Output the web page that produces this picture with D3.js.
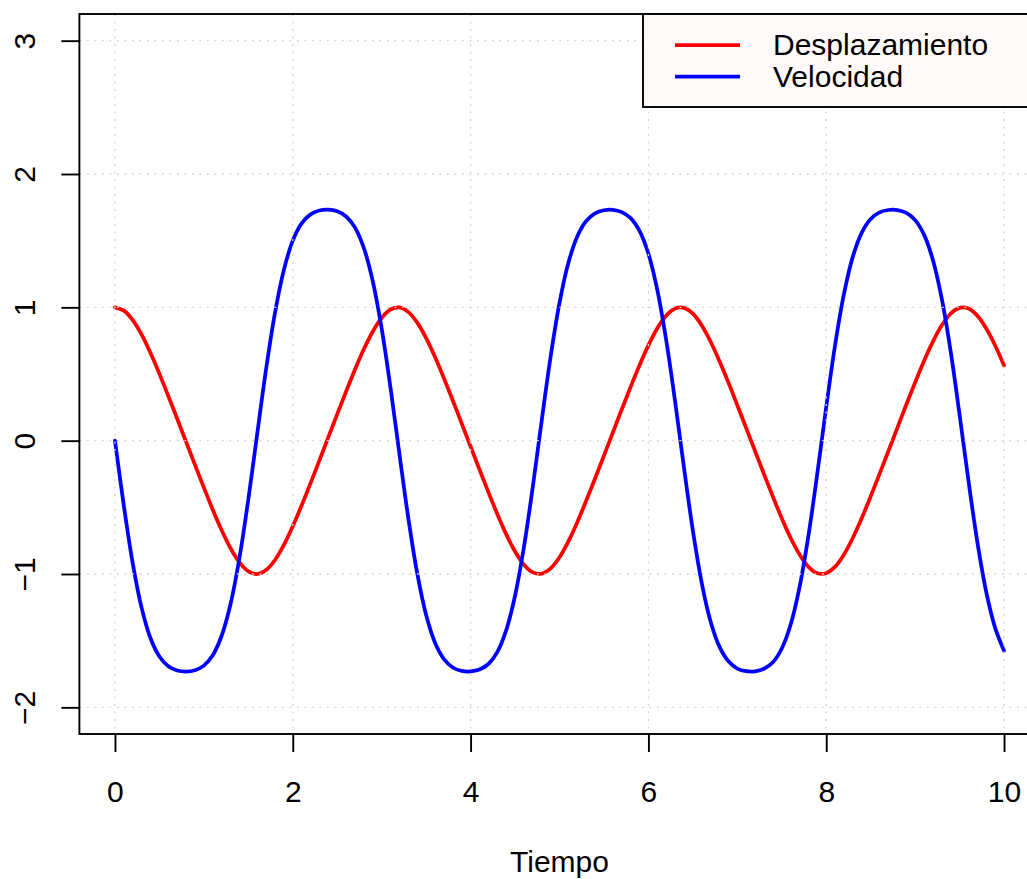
<!DOCTYPE html>
<html>
<head>
<meta charset="utf-8">
<script src="https://cdn.jsdelivr.net/npm/d3@7"></script>
<style>
  html, body { margin: 0; padding: 0; background: #ffffff; }
  svg { display: block; }
</style>
</head>
<body>
<svg id="chart" width="1027" height="879"></svg>
<script>
// ---- data ----
const tiempo = [
  0.0, 0.1, 0.2, 0.3, 0.4, 0.5, 0.6, 0.7, 0.8, 0.9,
  1.0, 1.1, 1.2, 1.3, 1.4, 1.5, 1.6, 1.7, 1.8, 1.9,
  2.0, 2.1, 2.2, 2.3, 2.4, 2.5, 2.6, 2.7, 2.8, 2.9,
  3.0, 3.1, 3.2, 3.3, 3.4, 3.5, 3.6, 3.7, 3.8, 3.9,
  4.0, 4.1, 4.2, 4.3, 4.4, 4.5, 4.6, 4.7, 4.8, 4.9,
  5.0, 5.1, 5.2, 5.3, 5.4, 5.5, 5.6, 5.7, 5.8, 5.9,
  6.0, 6.1, 6.2, 6.3, 6.4, 6.5, 6.6, 6.7, 6.8, 6.9,
  7.0, 7.1, 7.2, 7.3, 7.4, 7.5, 7.6, 7.7, 7.8, 7.9,
  8.0, 8.1, 8.2, 8.3, 8.4, 8.5, 8.6, 8.7, 8.8, 8.9,
  9.0, 9.1, 9.2, 9.3, 9.4, 9.5, 9.6, 9.7, 9.8, 9.9,
  10.0
];
const desplazamiento = [
  1.000, 0.975, 0.904, 0.795, 0.657, 0.501, 0.335, 0.164, -0.009, -0.182,
  -0.352, -0.518, -0.672, -0.807, -0.913, -0.980, -1.000, -0.970, -0.895, -0.782,
  -0.642, -0.485, -0.318, -0.147, 0.026, 0.199, 0.369, 0.534, 0.687, 0.819,
  0.922, 0.984, 0.999, 0.964, 0.885, 0.769, 0.627, 0.468, 0.301, 0.129,
  -0.044, -0.216, -0.386, -0.550, -0.701, -0.831, -0.930, -0.988, -0.998, -0.958,
  -0.874, -0.755, -0.611, -0.451, -0.284, -0.112, 0.061, 0.234, 0.403, 0.566,
  0.715, 0.843, 0.938, 0.991, 0.996, 0.952, 0.864, 0.742, 0.595, 0.435,
  0.266, 0.094, -0.079, -0.251, -0.420, -0.582, -0.730, -0.854, -0.946, -0.994,
  -0.994, -0.945, -0.853, -0.728, -0.580, -0.418, -0.249, -0.077, 0.096, 0.269,
  0.437, 0.598, 0.743, 0.865, 0.953, 0.996, 0.991, 0.937, 0.841, 0.714,
  0.564
];
const velocidad = [
  0.000, -0.489, -0.920, -1.254, -1.482, -1.619, -1.692, -1.724, -1.732, -1.722,
  -1.687, -1.609, -1.463, -1.225, -0.880, -0.441, 0.051, 0.537, 0.958, 1.281,
  1.500, 1.629, 1.697, 1.726, 1.732, 1.720, 1.681, 1.598, 1.444, 1.195,
  0.840, 0.393, -0.101, -0.583, -0.996, -1.308, -1.516, -1.638, -1.701, -1.727,
  -1.731, -1.717, -1.675, -1.586, -1.423, -1.163, -0.798, -0.344, 0.152, 0.629,
  1.033, 1.334, 1.532, 1.647, 1.705, 1.728, 1.731, 1.714, 1.669, 1.573,
  1.402, 1.131, 0.755, 0.295, -0.202, -0.674, -1.068, -1.358, -1.547, -1.655,
  -1.709, -1.729, -1.730, -1.711, -1.662, -1.559, -1.379, -1.098, -0.712, -0.245,
  0.252, 0.718, 1.102, 1.382, 1.561, 1.663, 1.712, 1.730, 1.729, 1.708,
  1.654, 1.545, 1.355, 1.063, 0.668, 0.195, -0.301, -0.761, -1.136, -1.404,
  -1.575
];
const xTicks = [0, 2, 4, 6, 8, 10];
const yTicks = [-2, -1, 0, 1, 2, 3];
const xLabel = "Tiempo";
const seriesNames = ["Desplazamiento", "Velocidad"];
const seriesColors = ["#ff0000", "#0000ff"];

// ---- layout ----
const FONT = "'Liberation Sans', Arial, Helvetica, sans-serif";
const plot = { left: 79.4, right: 1039.6, top: 14, bottom: 734 };
const svg = d3.select("#chart");

const x = d3.scaleLinear().domain([-0.4, 10.4]).range([plot.left, plot.right]);
const y = d3.scaleLinear().domain([-2.2, 3.2]).range([plot.bottom, plot.top]);

const seriesData = [desplazamiento, velocidad].map(vals =>
  tiempo.map((t, i) => ({ t: t, v: vals[i] })));

const line = d3.line()
  .x(d => x(d.t))
  .y(d => y(d.v))
  .curve(d3.curveCatmullRom.alpha(0.5));

// curves
svg.append("g").selectAll("path")
  .data(seriesData)
  .join("path")
  .attr("d", d => line(d))
  .attr("fill", "none")
  .attr("stroke", (d, i) => seriesColors[i])
  .attr("stroke-width", 3.75)
  .attr("stroke-linejoin", "round")
  .attr("stroke-linecap", "round");

// grid (drawn over the curves, dotted light gray)
const grid = svg.append("g")
  .attr("stroke", "#d3d3d3")
  .attr("stroke-width", 1.3)
  .attr("stroke-dasharray", "1.9,5.6");
grid.selectAll("line.gx")
  .data(xTicks)
  .join("line")
  .attr("class", "gx")
  .attr("x1", d => x(d)).attr("x2", d => x(d))
  .attr("y1", plot.top).attr("y2", plot.bottom);
grid.selectAll("line.gy")
  .data(yTicks)
  .join("line")
  .attr("class", "gy")
  .attr("x1", plot.left).attr("x2", plot.right)
  .attr("y1", d => y(d)).attr("y2", d => y(d));

// box
svg.append("rect")
  .attr("x", plot.left).attr("y", plot.top)
  .attr("width", plot.right - plot.left)
  .attr("height", plot.bottom - plot.top)
  .attr("fill", "none")
  .attr("stroke", "#000")
  .attr("stroke-width", 1.9);

const minus = d => (d < 0 ? "\u2212" + Math.abs(d) : String(d));

// x axis
const gx = svg.append("g")
  .attr("transform", `translate(0,${plot.bottom})`)
  .call(d3.axisBottom(x).tickValues(xTicks).tickSize(18).tickFormat(minus));
gx.select(".domain").remove();
gx.selectAll(".tick line").attr("stroke", "#000").attr("stroke-width", 1.9);
gx.selectAll(".tick text")
  .attr("y", 68).attr("dy", null)
  .attr("fill", "#000")
  .style("font-family", FONT).style("font-size", "30px");

// y axis
const gy = svg.append("g")
  .attr("transform", `translate(${plot.left},0)`)
  .call(d3.axisLeft(y).tickValues(yTicks).tickSize(18).tickFormat(minus));
gy.select(".domain").remove();
gy.selectAll(".tick line").attr("stroke", "#000").attr("stroke-width", 1.9);
gy.selectAll(".tick text")
  .attr("x", null).attr("dy", null)
  .attr("text-anchor", "middle")
  .attr("transform", `translate(${35 - plot.left},0) rotate(-90)`)
  .attr("fill", "#000")
  .style("font-family", FONT).style("font-size", "30px");

// x label
svg.append("text")
  .attr("x", (plot.left + plot.right) / 2)
  .attr("y", 872)
  .attr("text-anchor", "middle")
  .style("font-family", FONT).style("font-size", "30px")
  .text(xLabel);

// legend
const leg = svg.append("g");
leg.append("rect")
  .attr("x", 643).attr("y", plot.top)
  .attr("width", plot.right - 643).attr("height", 93)
  .attr("fill", "#fffafa")
  .attr("stroke", "#000")
  .attr("stroke-width", 1.9);
const items = leg.selectAll("g.item")
  .data(seriesNames)
  .join("g")
  .attr("class", "item")
  .attr("transform", (d, i) => `translate(0,${i * 31.7})`);
items.append("line")
  .attr("x1", 675).attr("x2", 740)
  .attr("y1", 45).attr("y2", 45)
  .attr("stroke", (d, i) => seriesColors[i])
  .attr("stroke-width", 3.75);
items.append("text")
  .attr("x", 773).attr("y", 55)
  .style("font-family", FONT).style("font-size", "30px")
  .attr("fill", "#000")
  .text(d => d);
</script>
</body>
</html>
